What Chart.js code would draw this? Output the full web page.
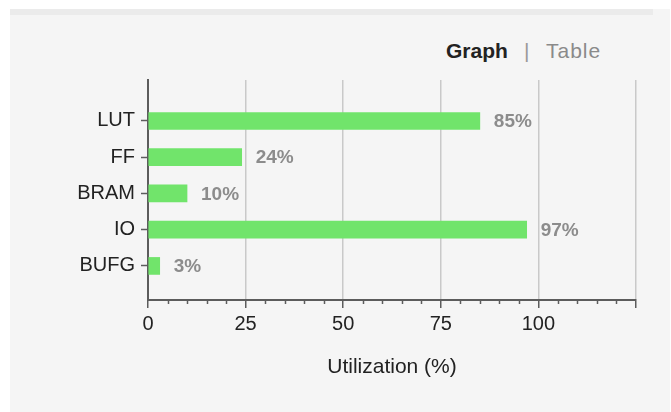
<!DOCTYPE html>
<html>
<head>
<meta charset="utf-8">
<script src="https://cdn.jsdelivr.net/npm/chart.js@4"></script>
<style>
  html, body { margin: 0; padding: 0; background: #fff; }
  body { width: 671px; height: 412px; position: relative; overflow: hidden; font-family: "Liberation Sans", Arial, sans-serif; }
  #panel { position: absolute; left: 10px; top: 9px; width: 660px; height: 403px; background: #f5f5f5; }
  #strip { position: absolute; left: 10px; top: 9px; width: 643px; height: 6px; background: #ebebeb; }
  .tab { position: absolute; top: 39px; font-size: 21px; line-height: 24px; }
  #graph { left: 446px; font-weight: bold; color: #222; }
  #sep { left: 524px; color: #999; }
  #table { left: 546px; color: #8a8a8a; letter-spacing: 1px; }
  #myChart { position: absolute; left: 0; top: 0; }
</style>
</head>
<body>
<div id="panel"></div>
<div id="strip"></div>
<div class="tab" id="graph">Graph</div>
<div class="tab" id="sep">|</div>
<div class="tab" id="table">Table</div>
<canvas id="myChart" width="671" height="412"></canvas>
<script>
const categories = ["LUT", "FF", "BRAM", "IO", "BUFG"];
const utilization = [85, 24, 10, 97, 3];
const xTicks = [0, 25, 50, 75, 100, 125];
const xTickLabels = ["0", "25", "50", "75", "100", ""];

const ctx = document.getElementById("myChart");
Chart.defaults.font.family = "'Liberation Sans', Arial, sans-serif";

// bold gray value labels to the right of each bar
const valueLabels = {
  id: "valueLabels",
  afterDatasetsDraw: (chart) => {
    const { ctx } = chart;
    const meta = chart.getDatasetMeta(0);
    ctx.save();
    ctx.font = "bold 19px 'Liberation Sans', Arial, sans-serif";
    ctx.fillStyle = "#8c8c8c";
    ctx.textAlign = "left";
    ctx.textBaseline = "middle";
    meta.data.forEach((bar, i) => {
      ctx.fillText(utilization[i] + "%", bar.x + 14, bar.y + 1);
    });
    ctx.restore();
  },
};

// small minor ticks every 5 on the x axis
const minorTicks = {
  id: "minorTicks",
  afterDraw: (chart) => {
    const { ctx } = chart;
    const x = chart.scales.x;
    ctx.save();
    ctx.strokeStyle = "#5c5c5c";
    ctx.lineWidth = 1.5;
    for (let v = 5; v < 125; v += 5) {
      if (v % 25 === 0) continue;
      const px = Math.round(x.getPixelForValue(v)) + 0.5;
      ctx.beginPath();
      ctx.moveTo(px, x.top);
      ctx.lineTo(px, x.top + 4);
      ctx.stroke();
    }
    ctx.restore();
  },
};

new Chart(ctx, {
  type: "bar",
  data: {
    datasets: [
      {
        label: "Utilization",
        data: utilization.map((v, i) => ({ x: v, y: i })),
        backgroundColor: "#71e46b",
        borderWidth: 0,
        barThickness: 17,
      },
    ],
  },
  options: {
    indexAxis: "y",
    responsive: false,
    animation: false,
    layout: { padding: { left: 0, top: 80, right: 35, bottom: 0 } },
    plugins: {
      legend: { display: false },
      tooltip: { enabled: false },
    },
    scales: {
      x: {
        type: "linear",
        min: 0,
        max: 125,
        afterFit: (scale) => { scale.height = 112; },
        afterBuildTicks: (scale) => { scale.ticks = xTicks.map((v) => ({ value: v })); },
        ticks: {
          autoSkip: false,
          color: "#222",
          padding: 4,
          font: { size: 20 },
          callback: (v) => xTickLabels[xTicks.indexOf(v)],
        },
        grid: {
          color: (c) => (c.tick && c.tick.value === 0 ? "rgba(0,0,0,0)" : "#c9c9c9"),
          lineWidth: 1.5,
          tickColor: "#5c5c5c",
          tickLength: 8,
          tickWidth: 1.5,
        },
        border: { color: "#5c5c5c", width: 2 },
        title: {
          display: true,
          text: "Utilization (%)",
          color: "#222",
          font: { size: 21 },
          padding: { top: 0, bottom: 32 },
        },
      },
      y: {
        type: "linear",
        reverse: true,
        offset: false,
        min: -1.13,
        max: 4.94,
        afterFit: (scale) => { scale.width = 148; },
        afterBuildTicks: (scale) => { scale.ticks = categories.map((c, i) => ({ value: i })); },
        ticks: {
          autoSkip: false,
          color: "#222",
          padding: 6,
          font: { size: 20 },
          callback: (v) => categories[v],
        },
        grid: {
          offset: false,
          drawOnChartArea: false,
          tickColor: "#5c5c5c",
          tickLength: 7,
          tickWidth: 1.5,
        },
        border: { color: "#5c5c5c", width: 2 },
      },
    },
  },
  plugins: [valueLabels, minorTicks],
});
</script>
</body>
</html>
